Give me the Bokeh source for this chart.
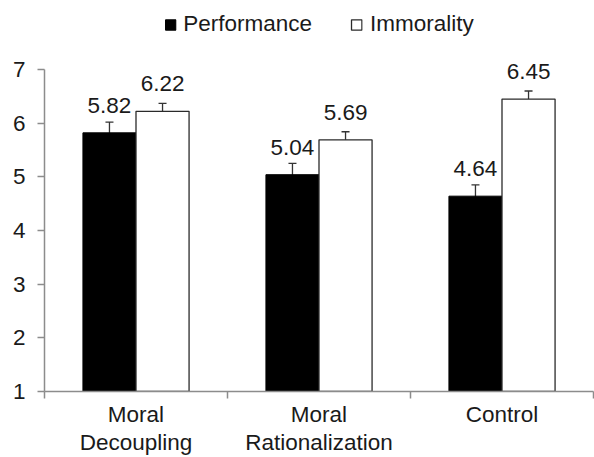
from bokeh.plotting import figure
from bokeh.models import (ColumnDataSource, Range1d, FixedTicker, Whisker, TeeHead,
                          LabelSet, Legend, LegendItem)
from bokeh.core.properties import value
from bokeh.transform import dodge
from bokeh.embed import file_html
from bokeh.resources import INLINE

categories = ["Moral\nDecoupling", "Moral\nRationalization", "Control"]
performance = [5.82, 5.04, 4.64]
immorality = [6.22, 5.69, 6.45]
performance_se = [0.20, 0.21, 0.21]
immorality_se = [0.15, 0.15, 0.15]
y_ticks = [1, 2, 3, 4, 5, 6, 7]

FONT = "Liberation Sans"
FSIZE = "22.5px"
TXT = "#1a1a1a"
AXC = "#8c8c8c"
BW = 0.29

xc = [i + 0.5 for i in range(len(categories))]
bounds = [i for i in range(len(categories) + 1)]

src = ColumnDataSource(dict(
    x=xc,
    perf=performance,
    imm=immorality,
    perf_lo=[v - e for v, e in zip(performance, performance_se)],
    perf_hi=[v + e for v, e in zip(performance, performance_se)],
    imm_lo=[v - e for v, e in zip(immorality, immorality_se)],
    imm_hi=[v + e for v, e in zip(immorality, immorality_se)],
    perf_txt=["%.2f" % v for v in performance],
    imm_txt=["%.2f" % v for v in immorality],
))

p = figure(width=594, height=457, output_backend="svg", toolbar_location=None,
           x_range=Range1d(0, 3), y_range=Range1d(1, 8.286),
           min_border_left=44, min_border_right=1, min_border_top=0, min_border_bottom=66)
p.outline_line_color = None
p.xgrid.visible = False
p.ygrid.visible = False
p.background_fill_color = "white"
p.border_fill_color = "white"

r1 = p.vbar(x=dodge("x", -BW / 2), top="perf", bottom=1, width=BW, source=src,
            fill_color="black", line_color="black", line_width=1)
r2 = p.vbar(x=dodge("x", BW / 2), top="imm", bottom=1, width=BW, source=src,
            fill_color="white", line_color="#2a2a2a", line_width=1.3)

for base, lo, hi in [(dodge("x", -BW / 2), "perf_lo", "perf_hi"),
                     (dodge("x", BW / 2), "imm_lo", "imm_hi")]:
    w = Whisker(base=base, lower=lo, upper=hi, source=src, dimension="height",
                line_color="#333333", line_width=1.3,
                upper_head=TeeHead(size=8, line_color="#333333", line_width=1.3),
                lower_head=TeeHead(size=8, line_color="#333333", line_width=1.3))
    p.add_layout(w)

for xs, col, txt in [(dodge("x", -BW / 2), "perf", "perf_txt"),
                     (dodge("x", BW / 2), "imm", "imm_txt")]:
    ls = LabelSet(x=xs, y=col, text=txt, source=src, y_offset=20,
                  text_align="center", text_baseline="alphabetic",
                  text_font=value(FONT), text_font_size=value(FSIZE), text_color=TXT)
    p.add_layout(ls)

# axes
ya = p.yaxis[0]
ya.ticker = FixedTicker(ticks=y_ticks, minor_ticks=[])
ya.bounds = (1, 7)
ya.axis_line_color = AXC
ya.axis_line_width = 1.5
ya.major_tick_line_color = AXC
ya.major_tick_line_width = 1.5
ya.major_tick_out = 7
ya.major_tick_in = 0
ya.major_label_standoff = 12
ya.major_label_text_font = FONT
ya.major_label_text_font_size = FSIZE
ya.major_label_text_color = TXT

xa = p.xaxis[0]
xa.ticker = FixedTicker(ticks=xc, minor_ticks=bounds)
xa.major_label_overrides = {x: c for x, c in zip(xc, categories)}
xa.axis_line_color = AXC
xa.axis_line_width = 1.5
xa.major_tick_line_color = None
xa.major_tick_out = 0
xa.major_tick_in = 0
xa.minor_tick_line_color = AXC
xa.minor_tick_line_width = 1.5
xa.minor_tick_out = 7
xa.minor_tick_in = 0
xa.major_label_standoff = 3
xa.major_label_text_font = FONT
xa.major_label_text_font_size = FSIZE
xa.major_label_text_color = TXT
xa.major_label_text_line_height = 1.12

legend = Legend(items=[LegendItem(label="Performance", renderers=[r1]),
                       LegendItem(label="Immorality", renderers=[r2])],
                orientation="horizontal", location="top_center",
                border_line_alpha=0, background_fill_alpha=0,
                glyph_width=13, glyph_height=13, label_standoff=7, spacing=38,
                padding=0, margin=11,
                label_text_font=FONT, label_text_font_size=FSIZE, label_text_color=TXT)
p.add_layout(legend)

open("out.html", "w").write(file_html(p, INLINE))
